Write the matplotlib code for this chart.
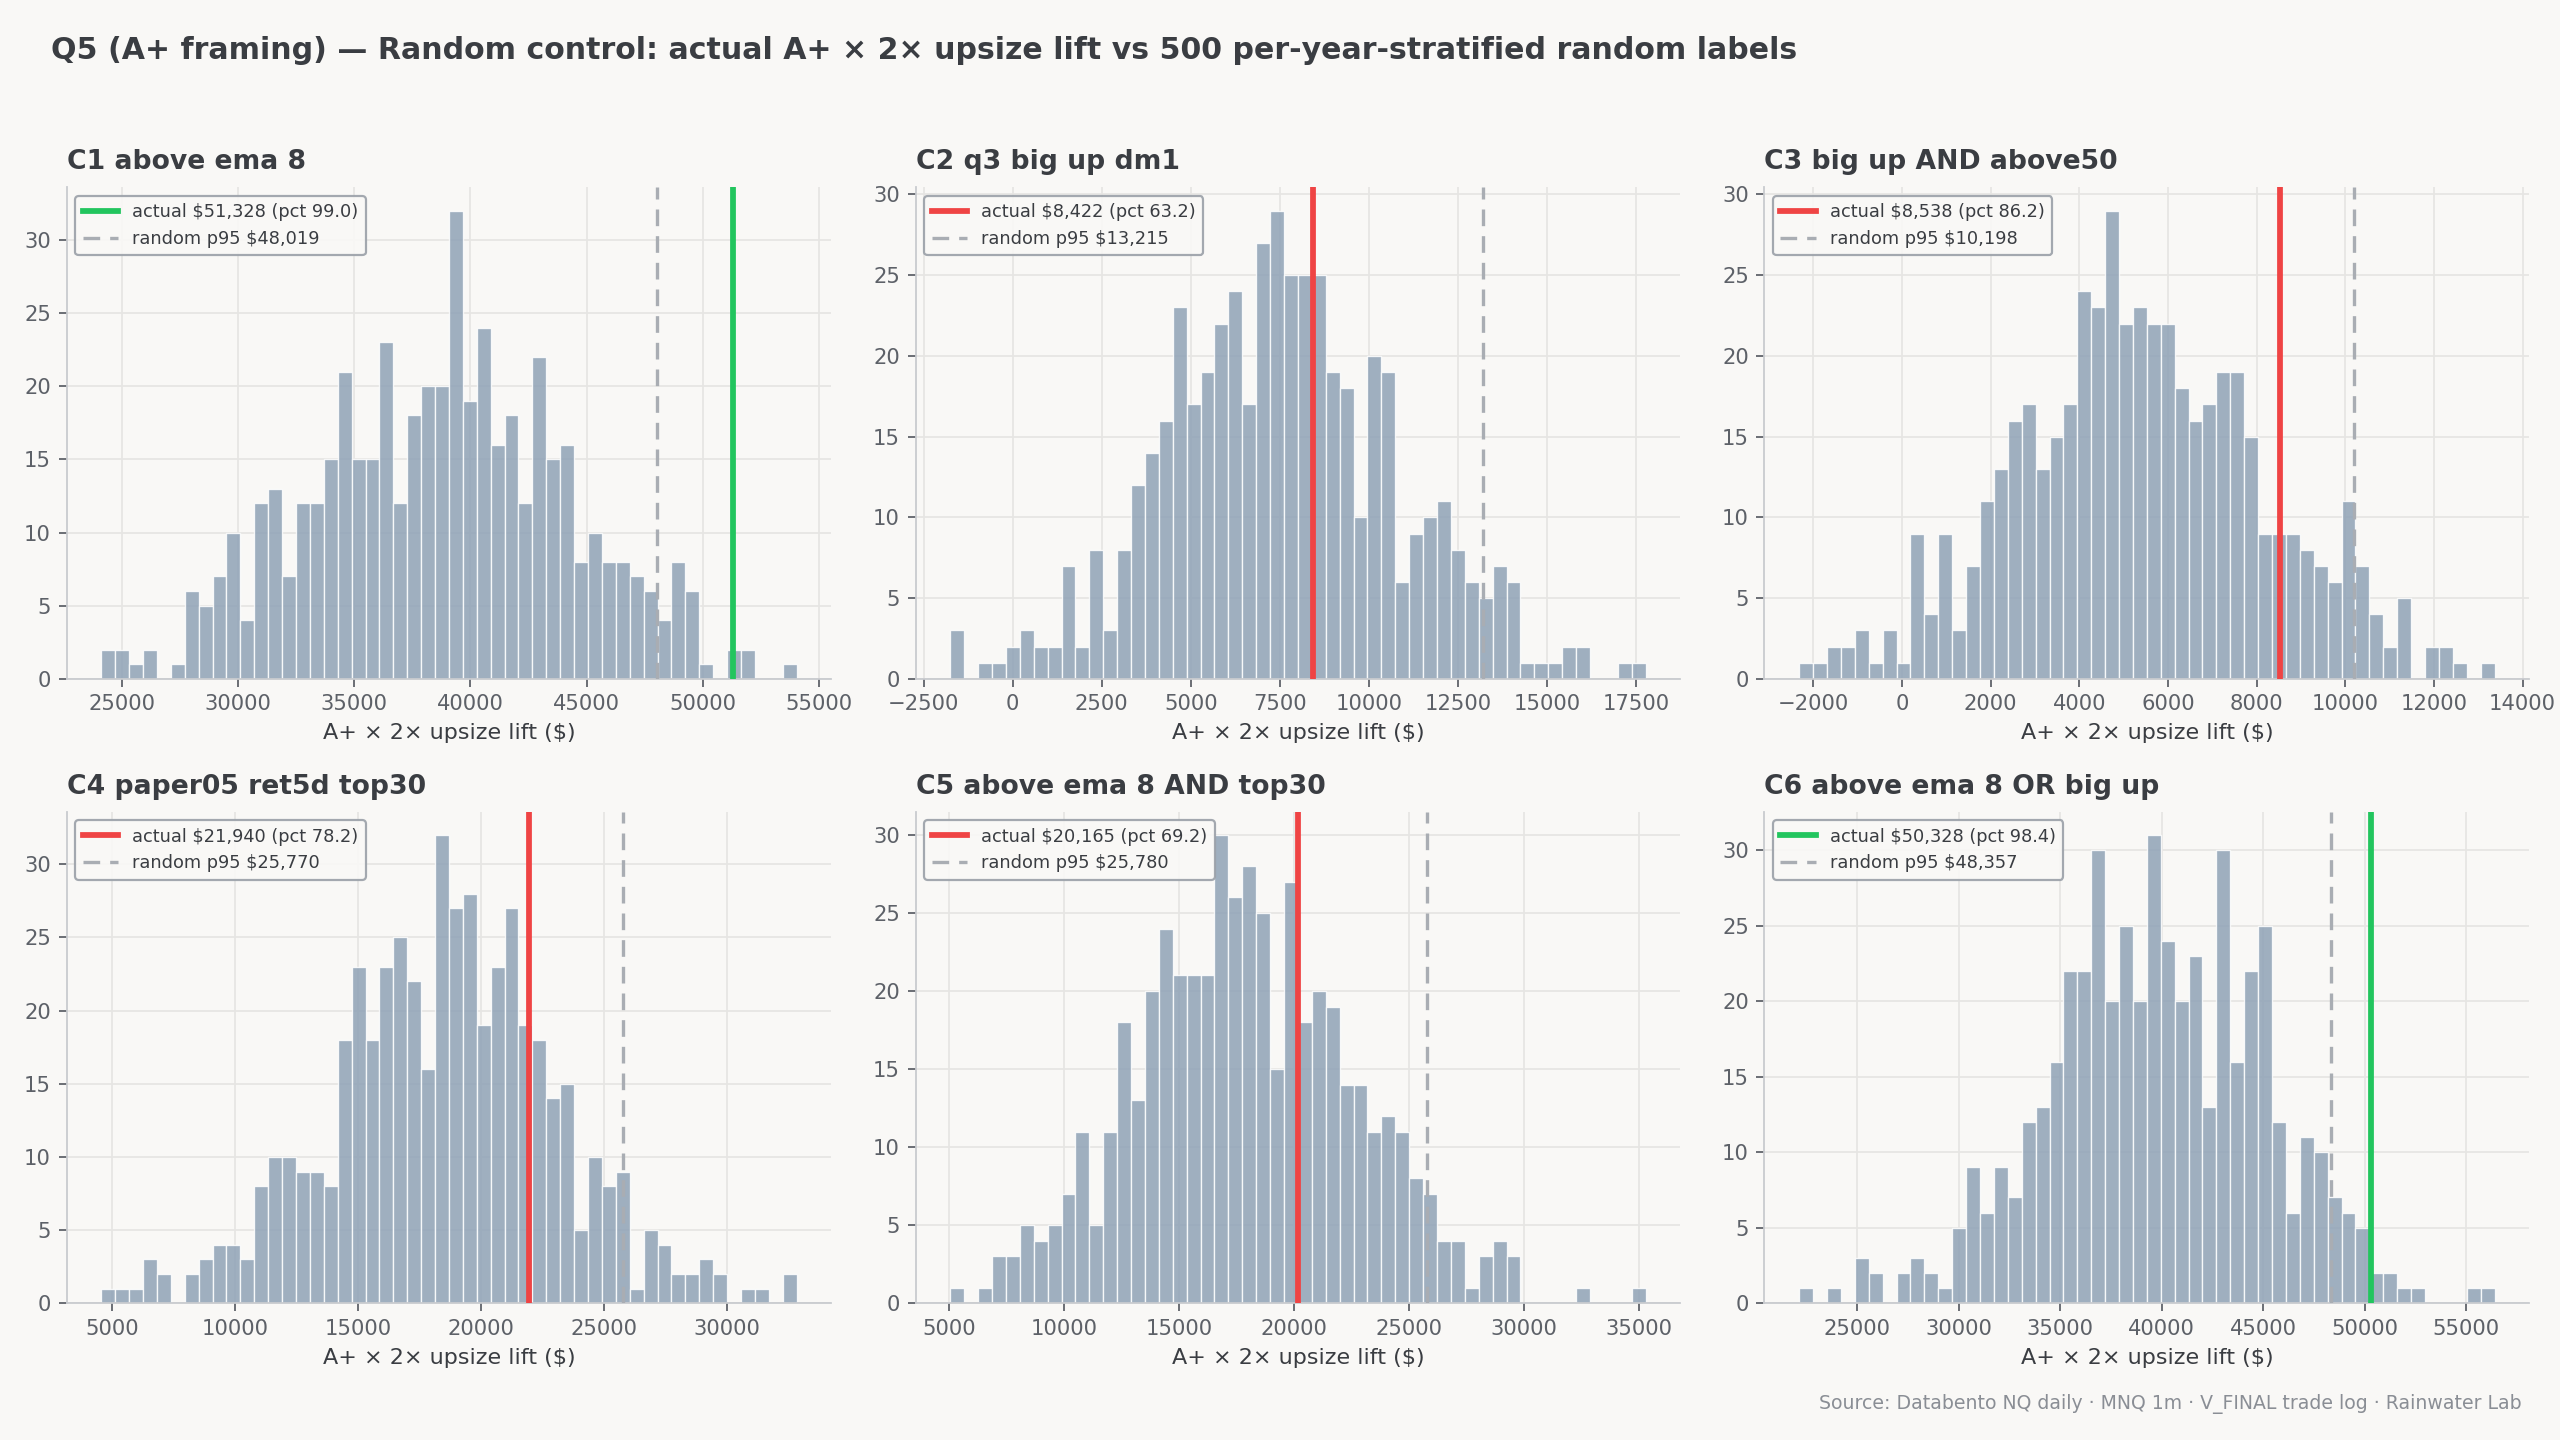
import numpy as np
import matplotlib
matplotlib.use("Agg")
import matplotlib.pyplot as plt

# bin range (min, max) and 50 bin counts per panel
titles = ["C1 above ema 8", "C2 q3 big up dm1", "C3 big up AND above50",
          "C4 paper05 ret5d top30", "C5 above ema 8 AND top30", "C6 above ema 8 OR big up"]
ranges = [(24100, 54050), (-1750, 17770), (-2316, 13367),
          (4553, 32846), (5065, 35283), (22136, 56407)]
counts = [
    [2, 2, 1, 2, 0, 1, 6, 5, 7, 10, 4, 12, 13, 7, 12, 12, 15, 21, 15, 15,
     23, 12, 18, 20, 20, 32, 19, 24, 16, 18, 12, 22, 15, 16, 8, 10, 8, 8, 7, 6,
     4, 8, 6, 1, 0, 2, 2, 0, 0, 1],
    [3, 0, 1, 1, 2, 3, 2, 2, 7, 2, 8, 3, 8, 12, 14, 16, 23, 17, 19, 22,
     24, 17, 27, 29, 25, 25, 25, 19, 18, 10, 20, 19, 6, 9, 10, 11, 8, 6, 5, 7,
     6, 1, 1, 1, 2, 2, 0, 0, 1, 1],
    [1, 1, 2, 2, 3, 1, 3, 1, 9, 4, 9, 3, 7, 11, 13, 16, 17, 13, 15, 17,
     24, 23, 29, 22, 23, 22, 22, 18, 16, 17, 19, 19, 15, 9, 9, 9, 8, 7, 6, 11,
     7, 4, 2, 5, 0, 2, 2, 1, 0, 1],
    [1, 1, 1, 3, 2, 0, 2, 3, 4, 4, 3, 8, 10, 10, 9, 9, 8, 18, 23, 18,
     23, 25, 22, 16, 32, 27, 28, 19, 23, 27, 19, 18, 14, 15, 5, 10, 8, 9, 1, 5,
     4, 2, 2, 3, 2, 0, 1, 1, 0, 2],
    [1, 0, 1, 3, 3, 5, 4, 5, 7, 11, 5, 11, 18, 13, 20, 24, 21, 21, 21, 30,
     26, 28, 25, 15, 27, 18, 20, 19, 14, 14, 11, 12, 11, 8, 7, 4, 4, 1, 3, 4,
     3, 0, 0, 0, 0, 1, 0, 0, 0, 1],
    [1, 0, 1, 0, 3, 2, 0, 2, 3, 2, 1, 5, 9, 6, 9, 7, 12, 13, 16, 22,
     22, 30, 20, 25, 20, 31, 24, 20, 23, 13, 30, 16, 22, 25, 12, 6, 11, 10, 7, 6,
     5, 2, 2, 1, 1, 0, 0, 0, 1, 1],
]
actual = [51328, 8422, 8538, 21940, 20165, 50328]
pct = [99.0, 63.2, 86.2, 78.2, 69.2, 98.4]
p95 = [48019, 13215, 10198, 25770, 25780, 48357]

BG = "#f9f8f6"
TXT = "#3a3d42"
GREEN = "#22c55e"
RED = "#ef4444"

plt.rcParams["font.family"] = ["DejaVu Sans"]
fig, axes = plt.subplots(2, 3, figsize=(16, 9), dpi=160)
fig.patch.set_facecolor(BG)
fig.subplots_adjust(left=0.026, right=0.988, top=0.870, bottom=0.095, wspace=0.11, hspace=0.27)

for i, ax in enumerate(axes.flat):
    lo, hi = ranges[i]
    edges = np.linspace(lo, hi, len(counts[i]) + 1)
    ax.set_facecolor(BG)
    ax.bar(edges[:-1], counts[i], width=np.diff(edges), align="edge",
           color="#8fa2b6", alpha=0.85, edgecolor="white", linewidth=0.6, zorder=2)
    col = GREEN if pct[i] >= 95 else RED
    ax.axvline(actual[i], color=col, lw=2.6, zorder=3,
               label=f"actual ${actual[i]:,} (pct {pct[i]:.1f})")
    ax.axvline(p95[i], color="#a9adb3", lw=1.5, ls=(0, (5, 3)), zorder=3,
               label=f"random p95 ${p95[i]:,}")
    ax.set_title(titles[i], loc="left", fontsize=12, fontweight="bold", color=TXT, pad=8)
    ax.set_xlabel("A+ × 2× upsize lift ($)", fontsize=10, color=TXT)
    ax.grid(True, color="#e6e5e3", lw=0.8, zorder=0)
    ax.set_axisbelow(True)
    for s in ["top", "right"]:
        ax.spines[s].set_visible(False)
    for s in ["left", "bottom"]:
        ax.spines[s].set_color("#c8cace")
    ax.tick_params(colors="#5d6168", labelsize=9.5)
    leg = ax.legend(loc="upper left", fontsize=8, frameon=True, framealpha=0.9,
                    facecolor=BG, edgecolor="#9aa0a8", labelcolor=TXT)
    leg.get_frame().set_linewidth(1.0)

fig.text(0.02, 0.975, "Q5 (A+ framing) — Random control: actual A+ × 2× upsize lift vs 500 per-year-stratified random labels",
         fontsize=13.5, fontweight="bold", color=TXT, va="top")
fig.text(0.985, 0.018, "Source: Databento NQ daily · MNQ 1m · V_FINAL trade log · Rainwater Lab",
         fontsize=8.5, color="#8a8e95", ha="right", va="bottom")

fig.savefig("out.png", dpi=160, facecolor=BG)
